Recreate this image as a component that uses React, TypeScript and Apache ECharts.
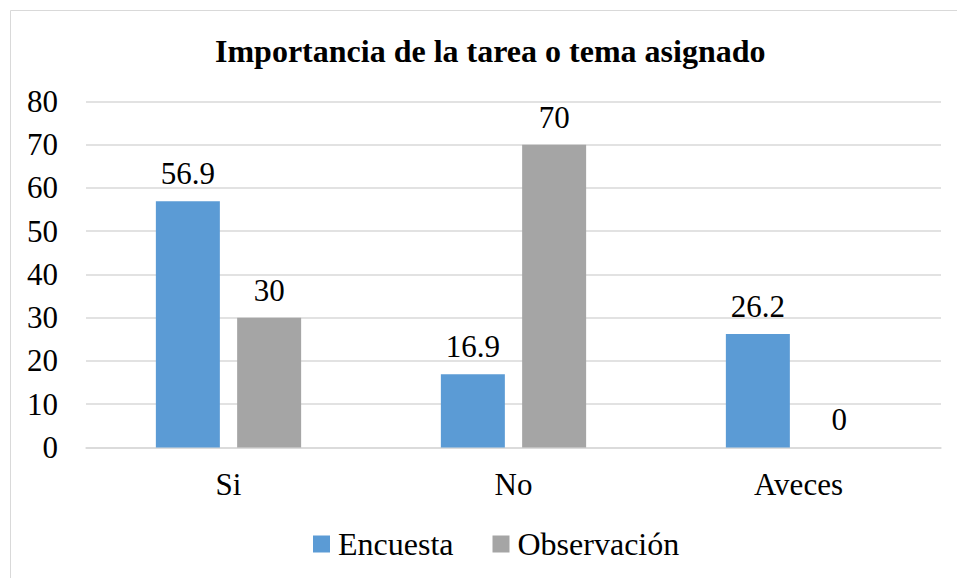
import React, { useEffect, useRef } from "react";
import * as echarts from "echarts";

const categories = ["Si", "No", "Aveces"];
const encuesta = [56.9, 16.9, 26.2];
const observacion = [30, 70, 0];
const seriesNames = ["Encuesta", "Observación"];
const titleText = "Importancia de la tarea o tema asignado";

const FONT = "Liberation Serif";

export default function App() {
  const ref = useRef<HTMLDivElement>(null);
  useEffect(() => {
    if (!ref.current) return;
    const chart = echarts.init(ref.current, undefined, { renderer: "svg" });
    const labelStyle = {
      show: true,
      position: "top" as const,
      distance: 12,
      color: "#000",
      fontFamily: FONT,
      fontSize: 31,
    };
    chart.setOption({
      animation: false,
      backgroundColor: "#fff",
      textStyle: { fontFamily: FONT, color: "#000" },
      title: {
        text: titleText,
        left: 210,
        top: 30,
        textStyle: { fontFamily: FONT, fontSize: 32, fontWeight: "bold", color: "#000" },
      },
      graphic: [
        {
          type: "rect",
          shape: { x: 10.5, y: 10.5, width: 960, height: 600 },
          style: { fill: "none", stroke: "#d9d9d9", lineWidth: 1 },
          silent: true,
        },
      ],
      legend: {
        data: seriesNames,
        bottom: 13,
        left: 308,
        icon: "rect",
        itemWidth: 17,
        itemHeight: 17,
        itemGap: 39,
        textStyle: { fontFamily: FONT, fontSize: 32, color: "#000", padding: [0, 0, 0, 3] },
      },
      grid: { left: 86, right: 16, top: 101.4, bottom: 130.6, containLabel: false },
      xAxis: {
        type: "category",
        data: categories,
        axisTick: { show: false },
        axisLine: { lineStyle: { color: "#d9d9d9", width: 1.5 } },
        axisLabel: { fontFamily: FONT, fontSize: 31, color: "#000", margin: 22 },
      },
      yAxis: {
        type: "value",
        min: 0,
        max: 80,
        interval: 10,
        axisLine: { show: false },
        axisTick: { show: false },
        splitLine: { lineStyle: { color: "#d9d9d9", width: 1.5 } },
        axisLabel: { fontFamily: FONT, fontSize: 31, color: "#000", margin: 28 },
      },
      series: [
        {
          name: seriesNames[0],
          type: "bar",
          data: encuesta,
          barWidth: 64,
          barGap: "27%",
          itemStyle: { color: "#5B9BD5" },
          label: labelStyle,
        },
        {
          name: seriesNames[1],
          type: "bar",
          data: observacion,
          barWidth: 64,
          barGap: "27%",
          itemStyle: { color: "#A5A5A5" },
          label: labelStyle,
        },
      ],
    });
    return () => chart.dispose();
  }, []);
  return (
    <div
      ref={ref}
      style={{ position: "fixed", left: 0, top: 0, width: 957, height: 578 }}
    />
  );
}
